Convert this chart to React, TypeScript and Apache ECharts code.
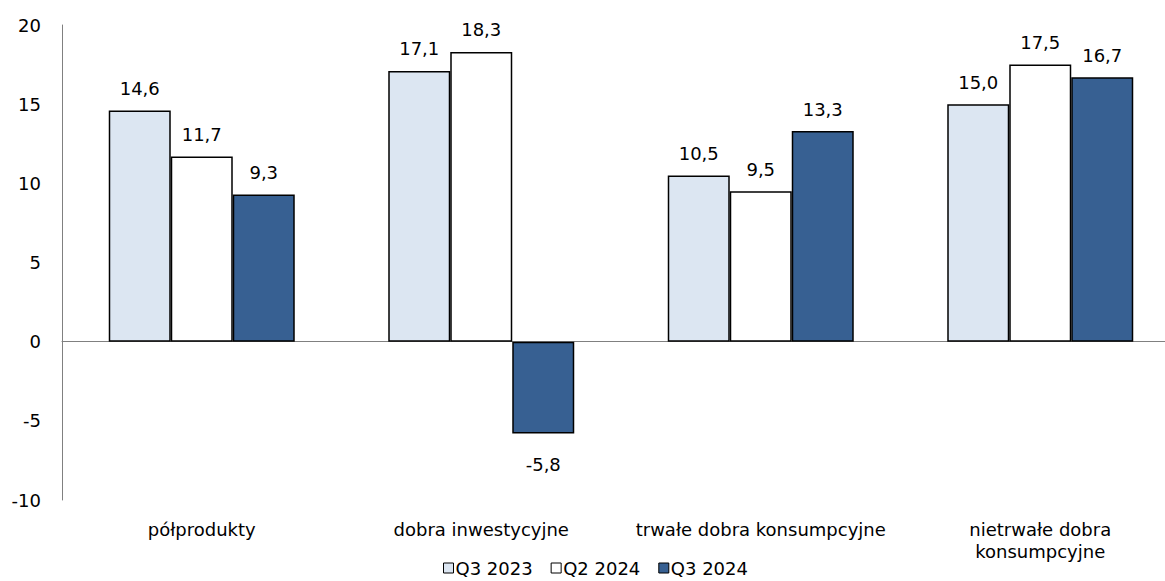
import React, { useEffect, useRef } from "react";
import * as echarts from "echarts";

const categories = ["półprodukty", "dobra inwestycyjne", "trwałe dobra konsumpcyjne", "nietrwałe dobra\nkonsumpcyjne"];
const seriesNames = ["Q3 2023", "Q2 2024", "Q3 2024"];
const q3_2023 = [14.6, 17.1, 10.5, 15.0];
const q2_2024 = [11.7, 18.3, 9.5, 17.5];
const q3_2024 = [9.3, -5.8, 13.3, 16.7];
const seriesColors = ["#DCE6F2", "#FFFFFF", "#376092"];
const yTicks = { min: -10, max: 20, interval: 5 };

const FONT = "'DejaVu Sans', Tahoma, sans-serif";

export default function App() {
  const ref = useRef<HTMLDivElement>(null);
  useEffect(() => {
    if (!ref.current) return;
    const chart = echarts.init(ref.current, undefined, { renderer: "svg" });
    const allData = [q3_2023, q2_2024, q3_2024];
    const series = allData.map((vals, i) => ({
      name: seriesNames[i],
      type: "bar",
      barWidth: 62,
      barGap: "0%",
      itemStyle: { color: seriesColors[i], borderColor: "#000", borderWidth: 1.5 },
      label: {
        show: true,
        color: "#000",
        fontFamily: FONT,
        fontSize: 18,
        distance: 13,
        formatter: (p: any) => p.value.toFixed(1).replace(".", ","),
      },
      data: vals.map((v) => ({
        value: v,
        label: v < 0 ? { position: "bottom", distance: 22 } : { position: "top" },
      })),
    }));
    chart.setOption({
      animation: false,
      textStyle: { fontFamily: FONT },
      grid: { left: 62, right: -15, top: 25, bottom: 81, containLabel: false, outerBoundsMode: "none" },
      legend: {
        bottom: -1,
        left: 438,
        itemWidth: 10,
        itemHeight: 10,
        itemGap: 18,
        icon: "rect",
        textStyle: { fontFamily: FONT, fontSize: 18, color: "#000", padding: [0, 0, 0, -3] },
        data: seriesNames.map((n, i) => ({
          name: n,
          itemStyle: { color: seriesColors[i], borderColor: "#000", borderWidth: 1 },
        })),
      },
      xAxis: {
        type: "category",
        data: categories,
        axisLine: { onZero: true, lineStyle: { color: "#808080", width: 1 } },
        axisTick: { show: false },
        axisLabel: {
          position: "bottom",
          color: "#000",
          fontFamily: FONT,
          fontSize: 18,
          lineHeight: 22,
          interval: 0,
          margin: 18,
        },
      },
      yAxis: {
        type: "value",
        min: yTicks.min,
        max: yTicks.max,
        interval: yTicks.interval,
        splitLine: { show: false },
        axisLine: { show: true, lineStyle: { color: "#808080", width: 1 } },
        axisTick: { show: false },
        axisLabel: { color: "#000", fontFamily: FONT, fontSize: 18, margin: 21 },
      },
      series,
    });
    return () => chart.dispose();
  }, []);
  return <div ref={ref} style={{ width: 1165, height: 581, position: "absolute", left: 0, top: 0 }} />;
}
